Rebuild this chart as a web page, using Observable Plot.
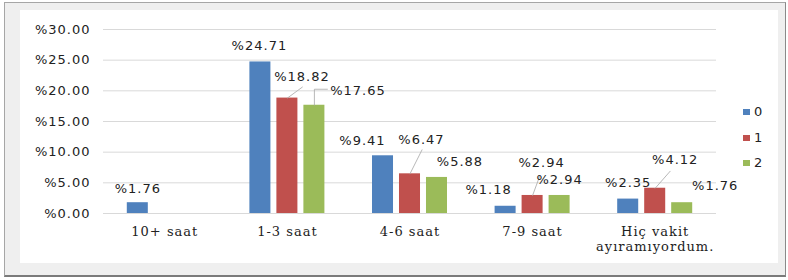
<!DOCTYPE html>
<html><head><meta charset="utf-8">
<script src="https://cdn.jsdelivr.net/npm/d3@7"></script>
<script src="https://cdn.jsdelivr.net/npm/@observablehq/plot@0.6"></script>
<style>
html,body{margin:0;padding:0}
body{width:788px;height:280px;position:relative;background:#fff;overflow:hidden}
#outer{position:absolute;left:4px;top:2px;width:780px;height:272px;background:#efefef;border:1px solid #a6a6a6;border-bottom:2px solid #7a7a7a;border-right:1px solid #8a8a8a}
#inner{position:absolute;left:20px;top:10px;width:758px;height:253px;background:#fff}
#chart{position:absolute;left:0;top:0}
#chart svg text{letter-spacing:1px}
.leg{position:absolute;font:13px "DejaVu Sans";color:#222;line-height:14px}
.sw{position:absolute;width:7px;height:6px}
</style>
</head><body>
<div id="outer"></div>
<div id="inner"></div>
<div id="chart"></div>
<div id="legend"></div>
<script>
const categories = ["10+ saat", "1-3 saat", "4-6 saat", "7-9 saat", "Hiç vakit\nayıramıyordum."];
const series = ["0", "1", "2"];
const colors = ["#4f81bd", "#c0504d", "#9bbb59"];
const values0 = [1.76, 24.71, 9.41, 1.18, 2.35];
const values1 = [null, 18.82, 6.47, 2.94, 4.12];
const values2 = [null, 17.65, 5.88, 2.94, 1.76];
const yTicks = [0, 5, 10, 15, 20, 25, 30];
// label offsets (px) from bar top centre, per series / category
const labelDx = [[0, -1, -20.5, -17, 0], [0, 14.6, 11.5, 9, 20], [0, 43.6, 23, 0, 33]];
const labelDy = [[-14, -16, -15, -16, -16], [0, -21.6, -34, -33, -28], [0, -14, -16, -16, -17]];
// leader lines: [category, series, points as [x offset in category units, y value]]
const leaders = [
  [1, 1, [[0, 18.82], [0.122, 20.61]]],
  [1, 2, [[0, 17.65], [0, 20.26], [0.106, 20.26]]],
  [2, 1, [[0, 6.47], [0.098, 10.38]]],
  [3, 1, [[0, 2.94], [0.057, 6.04]]],
  [4, 1, [[0, 4.12], [0.122, 6.89]]]
];

const groupStep = 0.2202;
const halfW = 0.0857;
const allValues = [values0, values1, values2];
const rows = [];
allValues.forEach((vals, s) => vals.forEach((v, c) => {
  if (v != null) rows.push({cat: c, s, series: series[s], value: v, x: c + (s - 1) * groupStep});
}));
const pos = (c, s) => c + (s - 1) * groupStep;

const labelMarks = rows.map(d => Plot.text([d], {
  x: "x", y: "value", text: r => "%" + r.value.toFixed(2),
  dx: labelDx[d.s][d.cat], dy: labelDy[d.s][d.cat],
  fontSize: 13, fontFamily: "DejaVu Sans", fill: "#222"
}));
const leaderMarks = leaders.map(([c, s, pts]) => Plot.line(pts.map(p => ({x: pos(c, s) + p[0], y: p[1]})), {
  x: "x", y: "y", stroke: "#a6a6a6", strokeWidth: 0.8
}));

const chart = Plot.plot({
  width: 788, height: 280,
  marginLeft: 103, marginRight: 72, marginTop: 29, marginBottom: 67,
  x: {domain: [-0.5, 4.5]},
  y: {domain: [0, 30]},
  color: {domain: series, range: colors},
  style: {background: "transparent", overflow: "visible"},
  marks: [
    Plot.ruleY(yTicks, {stroke: "#d9d9d9", strokeWidth: 1}),
    Plot.axisY({ticks: yTicks, tickFormat: d => "%" + d.toFixed(2), tickSize: 0, tickPadding: 13, label: null, fontSize: 13, fontFamily: "DejaVu Sans", fill: "#222"}),
    Plot.axisX({ticks: [0, 1, 2, 3, 4], tickFormat: i => categories[i], tickSize: 0, tickPadding: 12, label: null, fontSize: 13, fontFamily: "DejaVu Serif", lineHeight: 1.15, fill: "#222"}),
    Plot.rectY(rows, {x1: d => d.x - halfW, x2: d => d.x + halfW, y1: 0, y2: "value", fill: "series"}),
    ...leaderMarks,
    ...labelMarks
  ]
});
document.getElementById("chart").appendChild(chart);

const legend = document.getElementById("legend");
const legY = [112, 138, 163];
series.forEach((s, i) => {
  const sw = document.createElement("div");
  sw.className = "sw"; sw.style.left = "743px"; sw.style.top = (legY[i] - 3) + "px"; sw.style.background = colors[i];
  legend.appendChild(sw);
  const t = document.createElement("div");
  t.className = "leg"; t.textContent = s; t.style.left = "754px"; t.style.top = (legY[i] - 7) + "px";
  legend.appendChild(t);
});
</script>
</body></html>
